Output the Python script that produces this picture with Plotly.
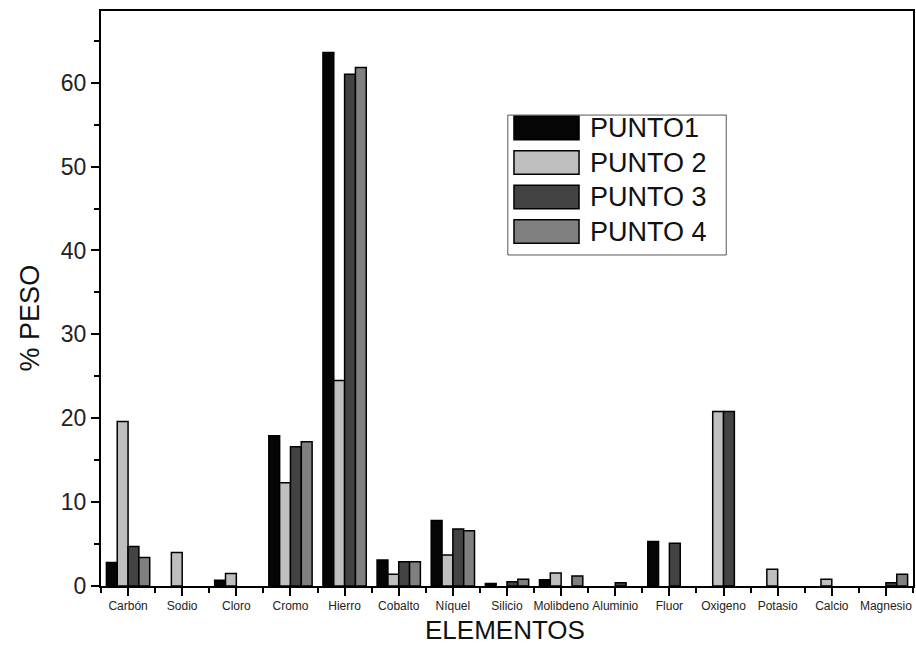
import plotly.graph_objects as go

categories = ["Carbón", "Sodio", "Cloro", "Cromo", "Hierro", "Cobalto", "Níquel",
              "Silicio", "Molibdeno", "Aluminio", "Fluor", "Oxigeno", "Potasio",
              "Calcio", "Magnesio"]
series_names = ["PUNTO1", "PUNTO 2", "PUNTO 3", "PUNTO 4"]
punto1 = [2.8, None, 0.7, 17.9, 63.6, 3.1, 7.8, 0.3, 0.75, None, 5.3, None, None, None, None]
punto2 = [19.6, 4.0, 1.5, 12.3, 24.5, 1.4, 3.7, None, 1.55, None, None, 20.8, 2.0, 0.8, None]
punto3 = [4.7, None, None, 16.6, 61.0, 2.9, 6.8, 0.5, None, 0.4, 5.1, 20.8, None, None, 0.4]
punto4 = [3.4, None, None, 17.2, 61.8, 2.9, 6.6, 0.8, 1.2, None, None, None, None, None, 1.4]
series_values = [punto1, punto2, punto3, punto4]
colors = ["#050505", "#bfbfbf", "#434343", "#808080"]
x_title = "ELEMENTOS"
y_title = "% PESO"

FONT = "Arial, Liberation Sans, sans-serif"
xpos = list(range(len(categories)))

fig = go.Figure()
for name, vals, col in zip(series_names, series_values, colors):
    fig.add_trace(go.Bar(
        x=xpos, y=vals, name=name,
        marker=dict(color=col, line=dict(color="#000000", width=1.5)),
        showlegend=False,
    ))

# custom legend with large swatches
lx0, lx1, ly0, ly1 = 0.501, 0.770, 0.5757, 0.819
shapes = [dict(type="rect", xref="paper", yref="paper", x0=lx0, x1=lx1, y0=ly0, y1=ly1,
               line=dict(color="#555555", width=1), fillcolor="white", layer="above")]
annotations = []
row_h = 0.0600
top_center = 0.7965
for i, (name, col) in enumerate(zip(series_names, colors)):
    yc = top_center - i * row_h
    shapes.append(dict(type="rect", xref="paper", yref="paper",
                       x0=0.5086, x1=0.5887, y0=yc - 0.0205, y1=yc + 0.0205,
                       line=dict(color="#000000", width=1.5), fillcolor=col, layer="above"))
    annotations.append(dict(xref="paper", yref="paper", x=0.600, y=yc, text=name,
                            showarrow=False, xanchor="left", yanchor="middle",
                            font=dict(family=FONT, size=27, color="#111111")))

# axis titles
annotations.append(dict(xref="paper", yref="paper", x=0.497, y=-0.0475, text=x_title,
                        showarrow=False, xanchor="center", yanchor="top",
                        font=dict(family=FONT, size=26, color="#111111")))
annotations.append(dict(xref="paper", yref="paper", x=-0.087, y=0.466, text=y_title,
                        showarrow=False, xanchor="center", yanchor="middle", textangle=-90,
                        font=dict(family=FONT, size=27, color="#111111")))

half_ticks = [i + 0.5 for i in range(-1, len(categories))]

fig.update_layout(
    width=916, height=656,
    margin=dict(l=101, r=3, t=11, b=70),
    paper_bgcolor="white", plot_bgcolor="white",
    barmode="group", bargap=0.2, bargroupgap=0.0,
    shapes=shapes, annotations=annotations,
    font=dict(family=FONT, color="#222222"),
)
fig.update_xaxes(
    range=[-0.5, len(categories) - 0.5],
    tickmode="array", tickvals=xpos, ticktext=categories,
    tickfont=dict(family=FONT, size=12, color="#222222"),
    ticks="outside", ticklen=8, tickwidth=1.5, tickcolor="#000000",
    minor=dict(tickmode="array", tickvals=half_ticks, ticks="outside", ticklen=5,
               tickwidth=1.5, tickcolor="#000000"),
    showline=True, linecolor="#000000", linewidth=2, mirror=True,
    showgrid=False, zeroline=False,
    automargin=False,
)
fig.update_yaxes(
    range=[0, 68.55],
    tickmode="linear", tick0=0, dtick=10,
    tickfont=dict(family=FONT, size=23, color="#222222"),
    ticks="outside", ticklen=8, tickwidth=1.5, tickcolor="#000000",
    minor=dict(dtick=5, ticks="outside", ticklen=5, tickwidth=1.5, tickcolor="#000000"),
    showline=True, linecolor="#000000", linewidth=2, mirror=True,
    showgrid=False, zeroline=False,
    automargin=False,
)

fig.write_html("out.html")
